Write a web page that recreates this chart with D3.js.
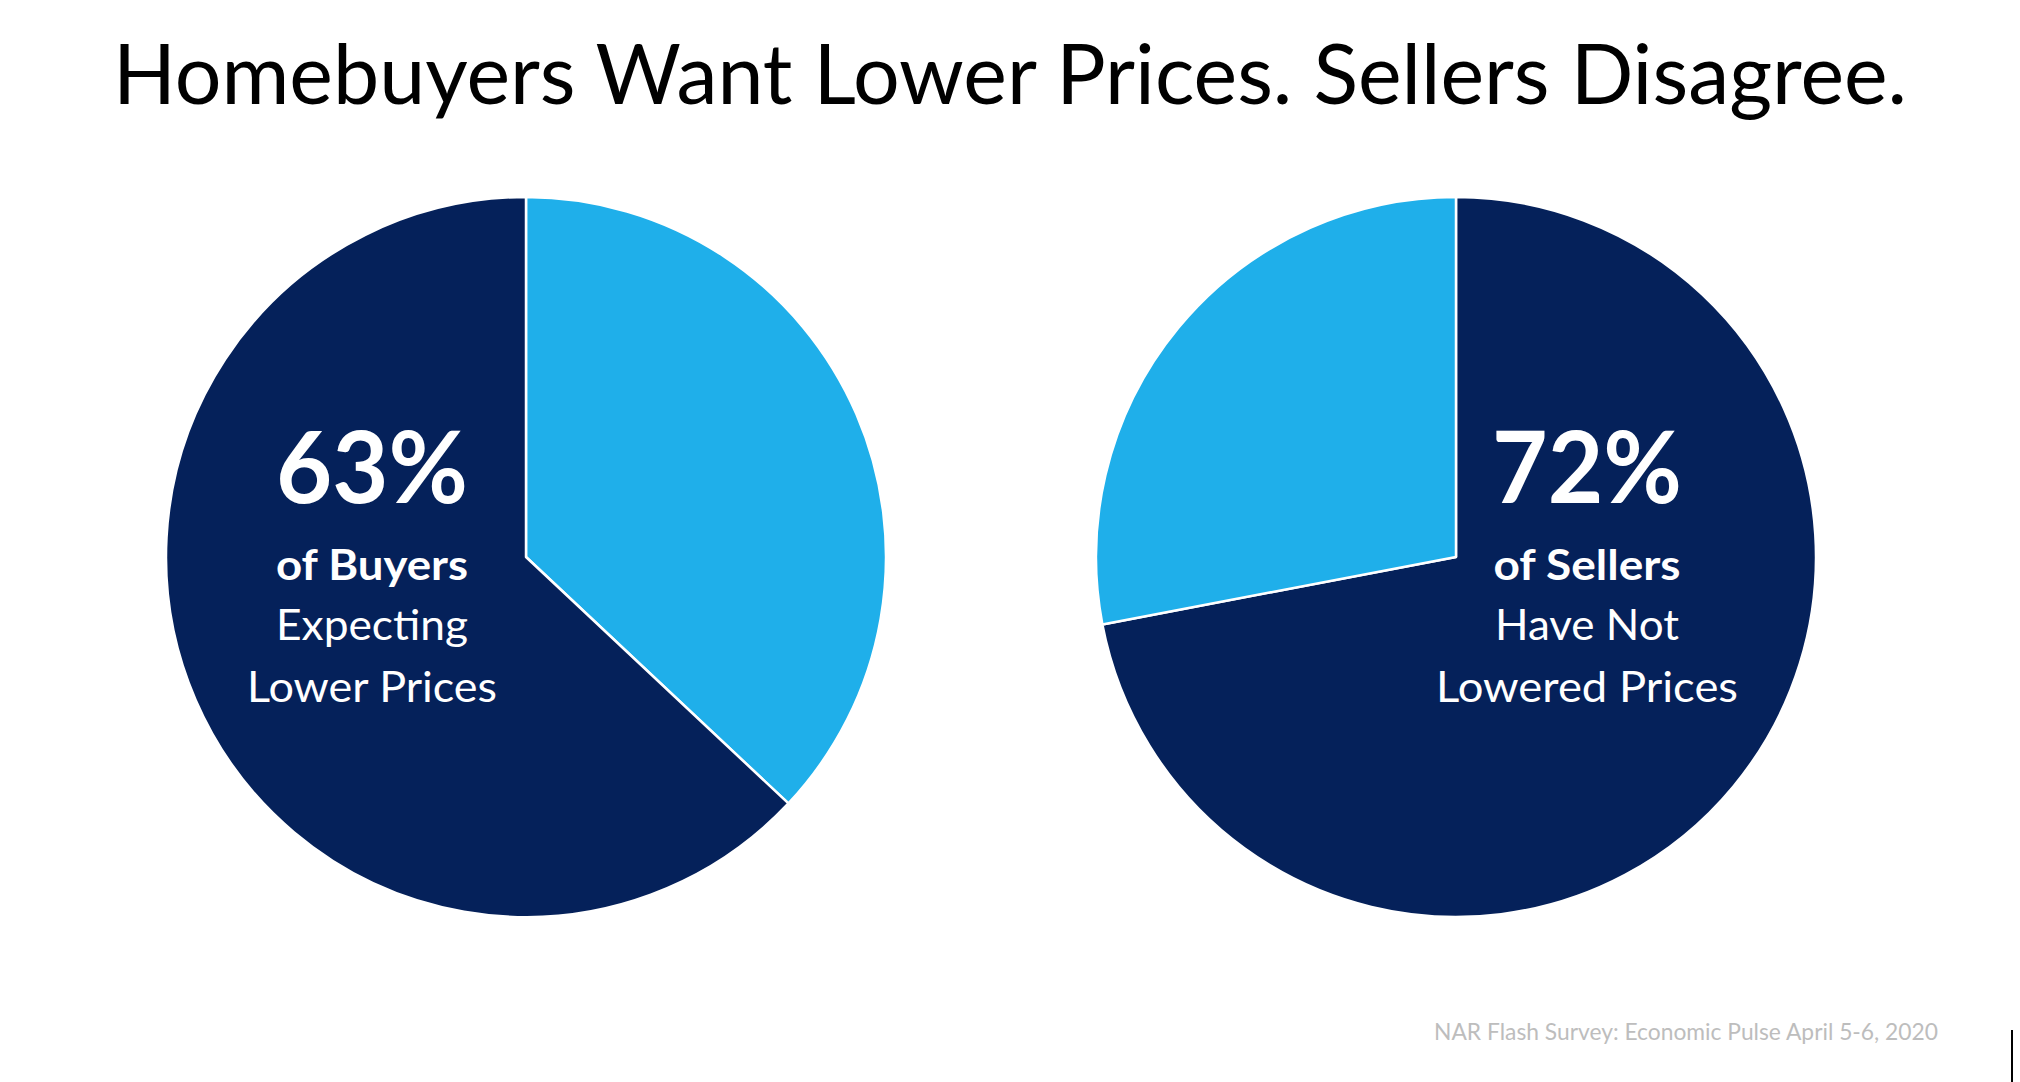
<!DOCTYPE html>
<html>
<head>
<meta charset="utf-8">
<script src="https://cdn.jsdelivr.net/npm/d3@7"></script>
<style>
  html, body { margin: 0; padding: 0; background: #ffffff; }
  svg { display: block; }
</style>
</head>
<body>
<svg id="chart" width="2020" height="1082"></svg>
<script>
// ---- data ----
const titleText = "Homebuyers Want Lower Prices. Sellers Disagree.";
const sourceText = "NAR Flash Survey: Economic Pulse April 5-6, 2020";

const buyersCategories = ["Not expecting lower prices", "Expecting lower prices"];
const buyersValues = [37, 63];
const buyersLabelLines = ["63%", "of Buyers", "Expecting", "Lower Prices"];

const sellersCategories = ["Have not lowered prices", "Have lowered prices"];
const sellersValues = [72, 28];
const sellersLabelLines = ["72%", "of Sellers", "Have Not", "Lowered Prices"];

// ---- layout / style ----
const W = 2020, H = 1082;
const DARK = "#05215A", LIGHT = "#1FAFEA";
const FONT = "Lato, 'Open Sans', sans-serif";
const svg = d3.select("#chart");

const color = d3.scaleOrdinal()
  .domain([buyersCategories[0], buyersCategories[1], sellersCategories[0], sellersCategories[1]])
  .range([LIGHT, DARK, DARK, LIGHT]);

svg.append("text")
  .attr("x", 113).attr("y", 104)
  .attr("font-family", FONT).attr("font-size", 84)
  .attr("fill", "#000")
  .attr("textLength", 1794).attr("lengthAdjust", "spacingAndGlyphs")
  .text(titleText);

const radius = 360;
const arc = d3.arc().innerRadius(0).outerRadius(radius);
const pie = d3.pie().sort(null).value(d => d.value);

const pies = [
  { cx: 526, cy: 557, cats: buyersCategories, vals: buyersValues, lines: buyersLabelLines,
    tx: 372, widths: [192, 192, 192, 250] },
  { cx: 1456, cy: 557, cats: sellersCategories, vals: sellersValues, lines: sellersLabelLines,
    tx: 1587, widths: [190, 187, 184, 302] }
];

const baselines = [503, 580, 640, 702];
const sizes = [100, 42, 42, 42];
const weights = [700, 700, 400, 400];

pies.forEach(p => {
  const data = p.cats.map((c, i) => ({ cat: c, value: p.vals[i] }));
  const g = svg.append("g").attr("transform", `translate(${p.cx},${p.cy})`);
  g.selectAll("path")
    .data(pie(data))
    .join("path")
    .attr("d", arc)
    .attr("fill", d => color(d.data.cat))
    .attr("stroke", "#ffffff")
    .attr("stroke-width", 2.5)
    .attr("stroke-linejoin", "round");

  svg.append("g").selectAll("text")
    .data(p.lines)
    .join("text")
    .attr("x", (d, i) => p.tx - p.widths[i] / 2)
    .attr("y", (d, i) => baselines[i])
    .attr("font-family", FONT)
    .attr("font-size", (d, i) => sizes[i])
    .attr("font-weight", (d, i) => weights[i])
    .attr("fill", "#ffffff")
    .attr("textLength", (d, i) => p.widths[i])
    .attr("lengthAdjust", "spacingAndGlyphs")
    .text(d => d);
});

svg.append("text")
  .attr("x", 1434).attr("y", 1040)
  .attr("font-family", FONT).attr("font-size", 24)
  .attr("fill", "#BDBDBD")
  .attr("textLength", 504).attr("lengthAdjust", "spacingAndGlyphs")
  .text(sourceText);

svg.append("line")
  .attr("x1", 2012).attr("x2", 2012)
  .attr("y1", 1030).attr("y2", 1082)
  .attr("stroke", "#000").attr("stroke-width", 2);
</script>
</body>
</html>
